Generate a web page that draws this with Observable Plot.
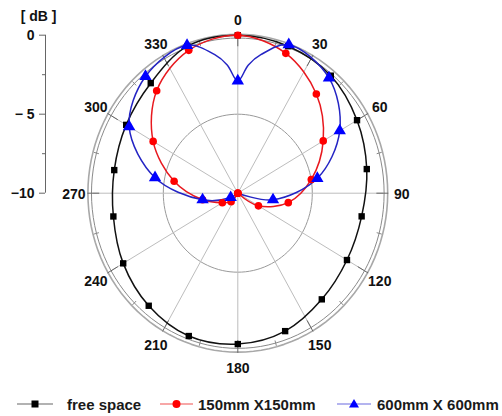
<!DOCTYPE html>
<html><head><meta charset="utf-8">
<script src="https://cdn.jsdelivr.net/npm/d3@7"></script>
<script src="https://cdn.jsdelivr.net/npm/@observablehq/plot@0.6"></script>
<style>
body{margin:0;background:#fff;font-family:"Liberation Sans",Arial,sans-serif;}
#legend{position:relative;height:24px;width:502px;font-weight:bold;font-size:15px;color:#1a1a1a;}
#legend .sw,#legend .tx{position:absolute;top:0;height:24px;display:flex;align-items:center;white-space:nowrap;}
</style></head><body>
<div id="chart"></div><div id="legend"></div>
<script>
// ---- data (angle in degrees, level in dB) ----
const seriesNames = ["free space", "150mm X150mm", "600mm X 600mm"];
const freeAngles  = [0,20,40,60,80,100,120,140,160,180,200,220,240,260,280,300,320,340];
const freeSpaceDb = [0,-0.1,-0.29,-0.76,-1.21,-1.56,-1.54,-1.23,-0.71,-0.45,-0.38,-0.70,-1.12,-1.52,-1.58,-1.35,-0.91,-0.1];
const smallAngles = [0,20,40,60,80,100,120,140,160,180,200,220,240,260,280,300,320,340];
const smallPlateDb = [0,-0.58,-1.8,-3.38,-4.99,-6.56,-8.4,-10,-10,-10,-10,-9.3,-8.8,-7.6,-5.66,-3.44,-1.53,-0.38];
const largeAngles = [0,5,10,20,40,60,80,100,120,140,160,180,200,220,240,260,280,300,320,340,350,355];
const largePlateDb = [-2.9,-1.85,-1.1,0,-0.48,-2.1,-4.58,-7.6,-10,-10,-10,-10,-10,-10,-9.45,-7.6,-4.36,-1.58,-0.36,-0.04,-1.1,-1.85];
const markerStep = 20;
const angleTicks = [0,30,60,90,120,150,180,210,240,270,300,330];
const dbTicks = [0,-5,-10];
const dbTickLabels = ["0","− 5","−10"];
const dbMinorTicks = [-2.5,-7.5];
const dbMin = -10, dbMax = 0;

// ---- styles / layout ----
const lineColors = ["#111111","#e8181e","#2424c4"];
const markColors = ["#000000","#ff0000","#0000ff"];
const symbols = ["square","circle","triangle"];
const markR = [3.6,3.8,4.6];
const W = 502, H = 392, cx = 237.3, cy = 192.7, sx = 149, sy = 158;
const rad = a => a * Math.PI / 180;
const norm = db => (db - dbMin) / (dbMax - dbMin);
const px = (r, a) => r * Math.sin(rad(a));
const py = (r, a) => r * Math.cos(rad(a));

const seriesData = [[freeAngles, freeSpaceDb],[smallAngles, smallPlateDb],[largeAngles, largePlateDb]];
const rows = [];
seriesData.forEach(([angs, dbs], i) => angs.forEach((a, j) => {
  const r = norm(dbs[j]);
  rows.push({series: seriesNames[i], angle: a, db: dbs[j], x: px(r, a), y: py(r, a)});
}));

const circle = r => d3.range(0, 360, 3).map(a => ({x: px(r, a), y: py(r, a)}));
const xA = (45 - cx) / sx;
const font = "Liberation Sans";

const marks = [
  Plot.line(circle(0.5), {x: "x", y: "y", stroke: "#9a9a9a", strokeWidth: 1, curve: "linear-closed"}),
  Plot.link(angleTicks, {x1: 0, y1: 0, x2: a => px(0.975, a), y2: a => py(0.975, a), stroke: "#bdbdbd", strokeWidth: 1}),
  Plot.line(circle(0.982), {x: "x", y: "y", stroke: "#8a8a8a", strokeWidth: 1, curve: "linear-closed"}),
  Plot.line(circle(1.006), {x: "x", y: "y", stroke: "#a8a8a8", strokeWidth: 1.6, curve: "linear-closed"}),
  Plot.link(angleTicks, {x1: a => px(0.93, a), y1: a => py(0.93, a), x2: a => px(1.01, a), y2: a => py(1.01, a), stroke: "#666", strokeWidth: 1}),
  Plot.link(angleTicks.map(a => a + 15), {x1: a => px(0.965, a), y1: a => py(0.965, a), x2: a => px(1.0, a), y2: a => py(1.0, a), stroke: "#888", strokeWidth: 1}),
  // left dB axis
  Plot.ruleX([xA], {y1: norm(dbMin), y2: norm(dbMax), stroke: "#666", strokeWidth: 1}),
  Plot.ruleY(dbTicks, {y: d => norm(d), x1: xA - 6 / sx, x2: xA, stroke: "#666"}),
  Plot.ruleY(dbMinorTicks, {y: d => norm(d), x1: xA - 3 / sx, x2: xA, stroke: "#666"}),
  Plot.text(dbTicks, {x: xA, y: d => norm(d), text: (d, i) => dbTickLabels[i], dx: -11, textAnchor: "end", fontSize: 14, fontWeight: "bold", fill: "#111", fontFamily: font}),
  Plot.text(["[ dB ]"], {x: (38 - cx) / sx, y: (cy - 16) / sy, text: d => d, fontSize: 14, fontWeight: "bold", fill: "#111", fontFamily: font}),
  // angle labels
  Plot.text(angleTicks, {x: a => px(1.1, a), y: a => py(1.1, a), text: a => String(a), dy: 1.5, fontSize: 14, fontWeight: "bold", fill: "#111", fontFamily: font}),
];
// curves
seriesNames.forEach((name, i) => {
  marks.push(Plot.line(rows.filter(d => d.series === name), {x: "x", y: "y", stroke: lineColors[i], strokeWidth: 1.5, curve: "catmull-rom-closed"}));
});
// markers
seriesNames.forEach((name, i) => {
  marks.push(Plot.dot(rows.filter(d => d.series === name && d.angle % markerStep === 0 && (i !== 2 || d.db > dbMin)),
    {x: "x", y: "y", symbol: () => symbols[i], fill: markColors[i], stroke: "none", r: markR[i]}));
});

const chart = Plot.plot({
  width: W, height: H, margin: 0,
  style: {fontFamily: font, background: "#fff"},
  x: {domain: [-cx / sx, (W - cx) / sx], range: [0, W], axis: null},
  y: {domain: [-(H - cy) / sy, cy / sy], range: [H, 0], axis: null},
  symbol: {type: "identity"},
  marks
});
document.getElementById("chart").appendChild(chart);

// legend
const leg = document.getElementById("legend");
const legendPos = [[17, 36, 67], [160, 33, 198], [337, 34, 377]];
const legLine = ["#666", "#f05050", "#6a6ae0"];
seriesNames.forEach((name, i) => {
  const [sxp, sw, tx] = legendPos[i];
  const m = sw / 2;
  let shape;
  if (i === 0) shape = `<rect x="${m - 3.5}" y="8.5" width="7" height="7" fill="${markColors[0]}"/>`;
  else if (i === 1) shape = `<circle cx="${m}" cy="12" r="4" fill="${markColors[1]}"/>`;
  else shape = `<polygon points="${m},7 ${m + 5},15.5 ${m - 5},15.5" fill="${markColors[2]}"/>`;
  const s = document.createElement("div");
  s.className = "sw"; s.style.left = sxp + "px";
  s.innerHTML = `<svg width="${sw}" height="24"><line x1="0" x2="${sw}" y1="12" y2="12" stroke="${legLine[i]}" stroke-width="1.2"/>${shape}</svg>`;
  leg.appendChild(s);
  const t = document.createElement("div");
  t.className = "tx"; t.style.left = tx + "px"; t.textContent = name;
  leg.appendChild(t);
});
</script>
</body></html>
